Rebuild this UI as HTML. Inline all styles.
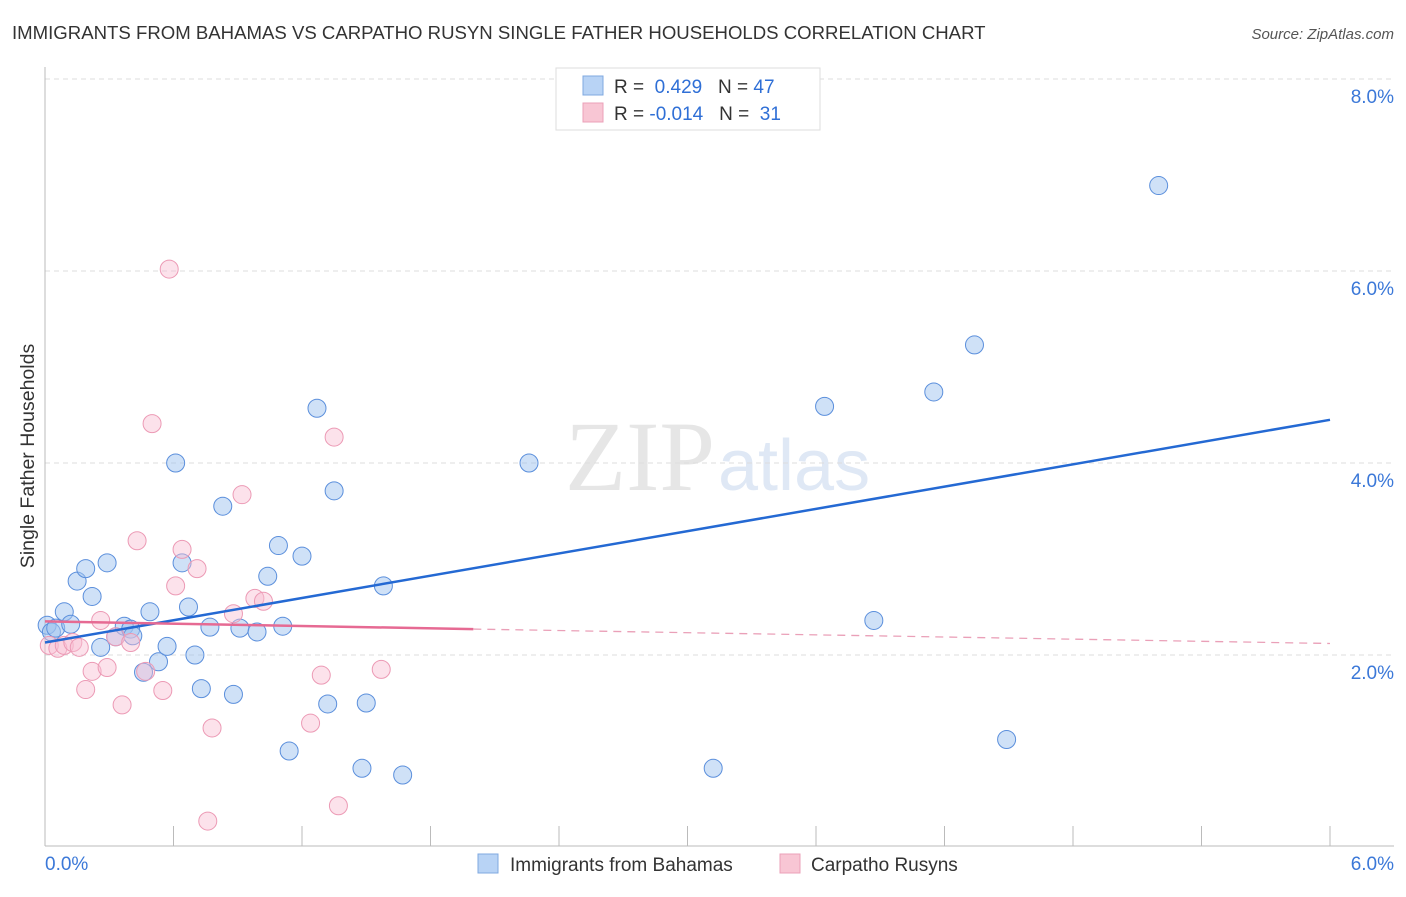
<!DOCTYPE html>
<html><head><meta charset="utf-8"><style>
body{margin:0;background:#fff;font-family:"Liberation Sans",sans-serif}
</style></head><body>
<svg id="chart" width="1406" height="892" xmlns="http://www.w3.org/2000/svg">
<text x="12" y="39" font-size="18.6" fill="#333">IMMIGRANTS FROM BAHAMAS VS CARPATHO RUSYN SINGLE FATHER HOUSEHOLDS CORRELATION CHART</text>
<text x="1394" y="39" font-size="15" fill="#555" text-anchor="end" font-style="italic">Source: ZipAtlas.com</text>
<text x="715" y="490" font-size="100" fill="#e6e6e6" text-anchor="end" font-family="Liberation Serif">ZIP</text>
<text x="718" y="490" font-size="72" fill="#dfe8f5">atlas</text>
<g id="grid"></g><g id="axes"></g><g id="pts"></g><g id="lines"></g>
<text x="34" y="456" font-size="19.5" fill="#333" text-anchor="middle" transform="rotate(-90 34 456)">Single Father Households</text>
<g>
<rect x="556" y="68" width="264" height="62" fill="#fff" stroke="#ddd"/>
<rect x="583" y="76" width="20" height="19" fill="#b8d3f5" stroke="#7fa8e0"/>
<rect x="583" y="103" width="20" height="19" fill="#f8c6d4" stroke="#eba0b8"/>
<text x="614" y="93" font-size="19" fill="#333">R = <tspan fill="#2f6fd6">&#160;0.429</tspan>&#160;&#160;&#160;N = <tspan fill="#2f6fd6">47</tspan></text>
<text x="614" y="120" font-size="19" fill="#333">R = <tspan fill="#2f6fd6">-0.014</tspan>&#160;&#160;&#160;N = <tspan fill="#2f6fd6">&#160;31</tspan></text>
</g>
<g>
<rect x="478" y="854" width="20" height="19" fill="#b8d3f5" stroke="#7fa8e0"/>
<text x="510" y="871" font-size="19" fill="#333">Immigrants from Bahamas</text>
<rect x="780" y="854" width="20" height="19" fill="#f8c6d4" stroke="#eba0b8"/>
<text x="811" y="871" font-size="19" fill="#333">Carpatho Rusyns</text>
</g>
</svg>
<script>
const blueX=[0.01,0.03,0.05,0.09,0.12,0.15,0.19,0.22,0.26,0.29,0.33,0.37,0.40,0.41,0.46,0.49,0.53,0.57,0.61,0.64,0.67,0.70,0.73,0.77,0.83,0.88,0.91,0.99,1.04,1.09,1.11,1.14,1.20,1.27,1.32,1.35,1.48,1.50,1.58,1.67,2.26,3.12,3.64,3.87,4.15,4.34,4.49,5.20];
const blueY=[2.31,2.24,2.28,2.45,2.32,2.77,2.90,2.61,2.08,2.96,2.19,2.30,2.27,2.20,1.82,2.45,1.93,2.09,4.00,2.96,2.50,2.00,1.65,2.29,3.55,1.59,2.28,2.24,2.82,3.14,2.30,1.00,3.03,4.57,1.49,3.71,0.82,1.50,2.72,0.75,4.00,0.82,4.59,2.36,4.74,5.23,1.12,6.89];
const pinkX=[0.02,0.06,0.09,0.13,0.16,0.19,0.22,0.26,0.29,0.33,0.36,0.40,0.43,0.47,0.50,0.55,0.58,0.61,0.64,0.71,0.76,0.78,0.88,0.92,0.98,1.02,1.24,1.29,1.35,1.37,1.57];
const pinkY=[2.10,2.07,2.10,2.13,2.08,1.64,1.83,2.36,1.87,2.19,1.48,2.13,3.19,1.83,4.41,1.63,6.02,2.72,3.10,2.90,0.27,1.24,2.43,3.67,2.59,2.56,1.29,1.79,4.27,0.43,1.85];
const xTicks=[0,6];const yTicks=[2,4,6,8];
const X=v=>45+v/6*1285, Y=v=>847-v*96;
const NS="http://www.w3.org/2000/svg";
function mk(t,a,p){const e=document.createElementNS(NS,t);for(const k in a)e.setAttribute(k,a[k]);p.appendChild(e);return e;}
const g=document.getElementById('grid'),ax=document.getElementById('axes'),pts=document.getElementById('pts'),ln=document.getElementById('lines');
yTicks.forEach(t=>{const l=mk('line',{x1:45,x2:1394,y1:Y(t),y2:Y(t),stroke:'#ddd','stroke-dasharray':'5,4'},g);


const tx=mk('text',{x:1394,y:Y(t)+24,'font-size':19,fill:'#3b78d8','text-anchor':'end'},ax);tx.textContent=t.toFixed(1)+'%';

});
const yl=mk('line',{x1:45,x2:45,y1:67,y2:846,stroke:'#bbb'},ax);


const xl=mk('line',{x1:45,x2:1394,y1:846,y2:846,stroke:'#bbb'},ax);


for(let i=1;i<=10;i++){const t=mk('line',{x1:45+i*128.5,x2:45+i*128.5,y1:826,y2:846,stroke:'#bbb'},ax);

}
xTicks.forEach((t,i)=>{const tx=mk('text',{x:i?1394:45,y:870,'font-size':19,fill:'#3b78d8','text-anchor':i?'end':'start'},ax);tx.textContent=t.toFixed(1)+'%';

});
blueX.forEach((v,i)=>{const c=mk('circle',{cx:X(v),cy:Y(blueY[i]),r:9,fill:'rgba(160,195,240,0.5)',stroke:'#5b8fdc','stroke-width':1},pts);

});
pinkX.forEach((v,i)=>{const c=mk('circle',{cx:X(v),cy:Y(pinkY[i]),r:9,fill:'rgba(248,190,210,0.45)',stroke:'#ec9ab5','stroke-width':1},pts);

});
const b=mk('line',{x1:X(0),y1:Y(2.13),x2:X(6),y2:Y(4.45),stroke:'#2469d3','stroke-width':2.5},ln);


const p1=mk('line',{x1:X(0),y1:Y(2.35),x2:X(2),y2:Y(2.27),stroke:'#e66a93','stroke-width':2.5},ln);


const p2=mk('line',{x1:X(2),y1:Y(2.27),x2:X(6),y2:Y(2.12),stroke:'#eaa0b8','stroke-width':1.3,'stroke-dasharray':'8,6'},ln);


</script>
</body></html>
